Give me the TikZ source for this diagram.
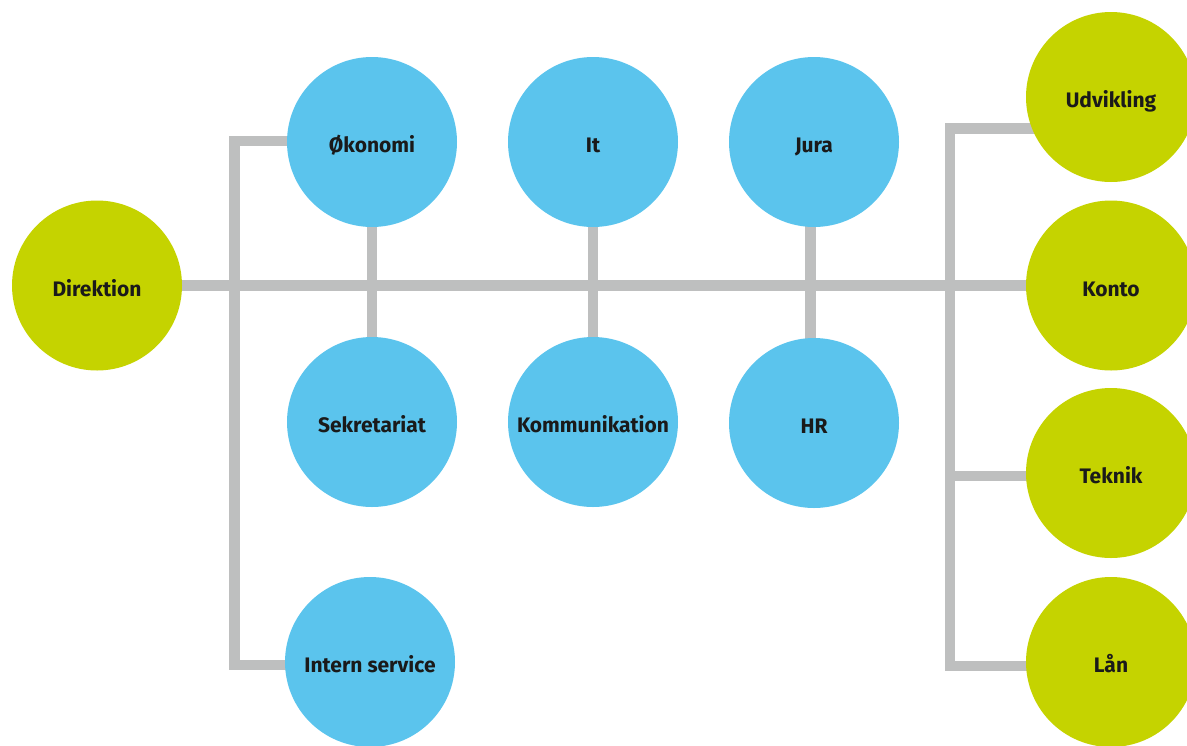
\documentclass[tikz,border=0pt]{standalone}
\usepackage{fontspec}
\setmainfont{Fira Sans}
\usetikzlibrary{backgrounds}
\definecolor{cblue}{HTML}{5BC4ED}
\definecolor{cgreen}{HTML}{C5D300}
\definecolor{cgray}{HTML}{BEBFBF}
\definecolor{ctext}{HTML}{1A1A1A}
\tikzset{
  unit/.style={circle, minimum size=170pt, inner sep=0pt, text=ctext,
    font=\fontsize{21}{24}\selectfont\bfseries, text height=21pt, text depth=0pt},
  bluec/.style={unit, fill=cblue},
  greenc/.style={unit, fill=cgreen},
  link/.style={draw=cgray, line width=10.5pt, line join=miter, line cap=butt}
}
\begin{document}
\begin{tikzpicture}[x=1pt, y=-1pt]
\useasboundingbox (0,0) rectangle (1187,745);
\clip (0,0) rectangle (1187,745);
% nodes
\node[greenc] (dir) at (97,285.5) {Direktion};
\node[bluec] (oko) at (372,142) {Økonomi};
\node[bluec] (it) at (593,142) {It};
\node[bluec] (jura) at (814,142) {Jura};
\node[bluec] (sek) at (372,422) {Sekretariat};
\node[bluec] (kom) at (593,422) {Kommunikation};
\node[bluec] (hr) at (814,423) {HR};
\node[bluec] (intern) at (370,662) {Intern service};
\node[greenc] (udv) at (1111,97) {Udvikling};
\node[greenc] (konto) at (1111,285.5) {Konto};
\node[greenc] (tek) at (1111,473) {Teknik};
\node[greenc] (lan) at (1111,662) {Lån};
% junction coordinates
\coordinate (ltop) at (234.5,141);
\coordinate (lbot) at (234.5,665);
\coordinate (rtop) at (950,128.5);
\coordinate (rtek) at (950,476);
\coordinate (rbot) at (950,666);
\begin{pgfonlayer}{background}
\draw[link] (dir.center) -- (konto.center);
\draw[link] (ltop -| oko) -- (ltop) -- (lbot) -- (lbot -| intern);
\draw[link] (rtop -| udv) -- (rtop) -- (rbot) -- (rbot -| lan);
\draw[link] (rtek) -- (rtek -| tek);
\draw[link] (oko.center) -- (sek.center);
\draw[link] (it.center) -- (kom.center);
\draw[link] ([xshift=-3.5pt]jura.center) -- ([xshift=-3.5pt]hr.center);
\end{pgfonlayer}
\end{tikzpicture}
\end{document}
